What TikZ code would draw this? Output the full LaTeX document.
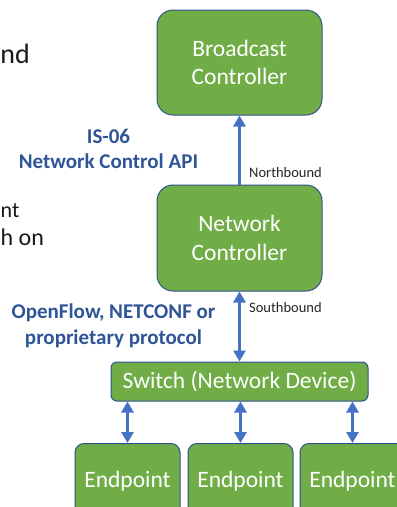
\documentclass[tikz,border=0pt]{standalone}
\usepackage{fontspec}
\setmainfont{Carlito}
\usetikzlibrary{arrows.meta}
\definecolor{boxgreen}{HTML}{70AD47}
\definecolor{boxedge}{HTML}{2F528F}
\definecolor{arrowblue}{HTML}{4472C4}
\definecolor{labelblue}{HTML}{2F5597}
\begin{document}
\begin{tikzpicture}[x=1pt,y=-1pt,
  box/.style={draw=boxedge, line width=1pt, fill=boxgreen, text=white,
    font=\fontsize{23.5}{28.7}\selectfont, align=center, inner sep=0pt},
  arr/.style={draw=arrowblue, line width=3.4pt, -{Triangle[width=12pt,length=11pt]}},
  darr/.style={draw=arrowblue, line width=3.4pt, {Triangle[width=12pt,length=11pt]}-{Triangle[width=12pt,length=11pt]}},
  lbl/.style={text=labelblue, font=\fontsize{21}{25.8}\selectfont\bfseries, align=center, inner sep=0pt},
  small/.style={font=\fontsize{14.5}{17}\selectfont, text=black!85, inner sep=0pt},
  frag/.style={text=black!90, inner sep=0pt}
]
\clip (0,0) rectangle (397,507);
\fill[white] (0,0) rectangle (397,507);

\node[box, minimum width=165pt, minimum height=105pt, rounded corners=16pt] (bc) at (239.5,62.5) {Broadcast\\Controller};
\node[box, minimum width=165pt, minimum height=106pt, rounded corners=16pt] (nc) at (239.5,238) {Network\\Controller};
\node[box, minimum width=257pt, minimum height=39pt, rounded corners=6pt] (sw) at (239.5,381.5) {Switch (Network Device)};
\node[box, minimum width=105pt, minimum height=76pt, rounded corners=9pt, anchor=north] (ep1) at (127.5,443) {Endpoint};
\node[box, minimum width=105pt, minimum height=76pt, rounded corners=9pt, anchor=north] (ep2) at (240.5,443) {Endpoint};
\node[box, minimum width=105pt, minimum height=76pt, rounded corners=9pt, anchor=north] (ep3) at (352.5,443) {Endpoint};

\draw[arr] (nc.north) -- (bc.south);
\draw[darr] (nc.south) -- (sw.north);
\draw[darr] (sw.south -| ep1.north) -- (ep1.north);
\draw[darr] (sw.south -| ep2.north) -- (ep2.north);
\draw[darr] (sw.south -| ep3.north) -- (ep3.north);

\node[small, anchor=base west] (nb) at (249,177) {Northbound};
\node[small, anchor=base west] (sb) at (249,312) {Southbound};

\node[lbl] (is06) at (108.5,149) {IS-06\\Network Control API};
\node[lbl] (of) at (113.5,325.5) {OpenFlow, NETCONF or\\proprietary protocol};

\node[frag, anchor=base east, font=\fontsize{28}{34}\selectfont] (f1) at (30,63) {nd};
\node[frag, anchor=base west, font=\fontsize{22}{27}\selectfont] (f2) at (0.5,217) {nt};
\node[frag, anchor=base west, font=\fontsize{24}{29}\selectfont] (f3) at (0.5,245) {h on};
\end{tikzpicture}
\end{document}
